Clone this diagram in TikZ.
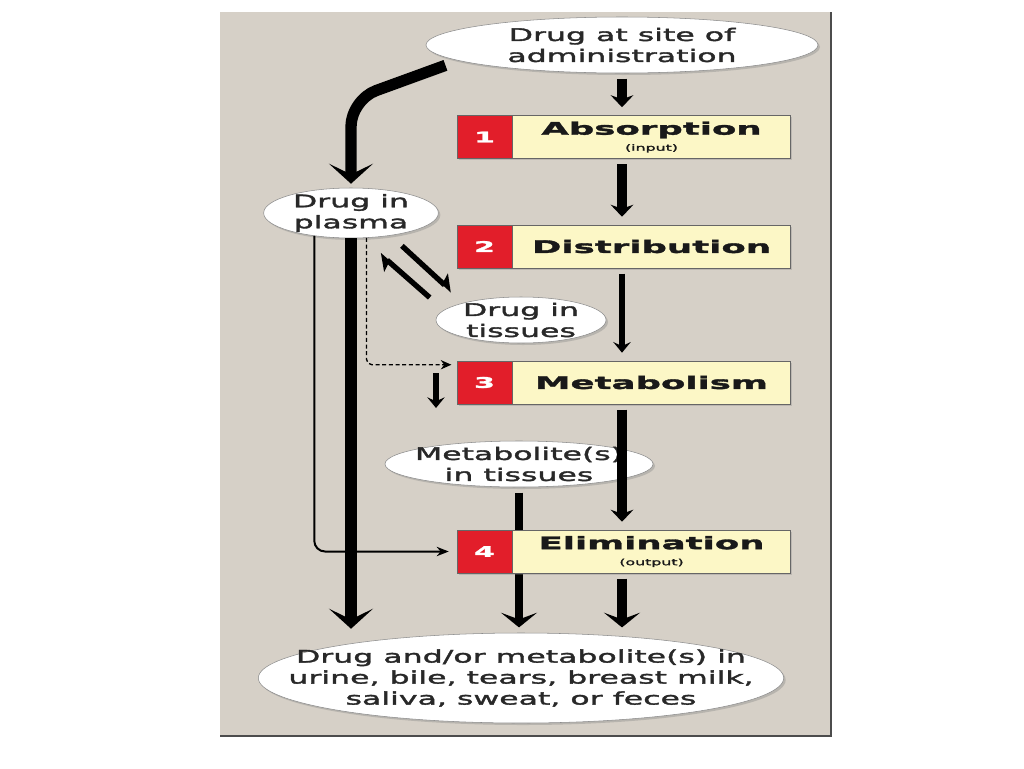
\documentclass[tikz,border=0pt]{standalone}
\usepackage{fontspec}
\newfontfamily\labelfont{DejaVu Sans}[FakeStretch=1.82, FakeBold=2]
\newfontfamily\stepfont{DejaVu Sans}[FakeStretch=2.05, FakeBold=1.8]
\usetikzlibrary{positioning}
\usetikzlibrary{arrows.meta}
\usetikzlibrary{shapes.geometric}
\usetikzlibrary{shadows}
\definecolor{panelgray}{RGB}{214, 208, 199}
\definecolor{stepred}{RGB}{226, 30, 42}
\definecolor{stepyellow}{RGB}{252, 247, 198}
\definecolor{inkgray}{RGB}{40, 40, 40}
\pgfdeclarelayer{bg}
\pgfdeclarelayer{under}
\pgfsetlayers{bg,under,main}

\begin{document}
\begin{tikzpicture}[
  x=0.75pt, y=-0.75pt,
  pool/.style={ellipse, fill=white, draw=black!45, line width=0.4pt, inner sep=0pt, align=center, text=inkgray,
    font=\labelfont\fontsize{13}{15.75}\selectfont, drop shadow={shadow xshift=1.5pt, shadow yshift=-1.5pt, opacity=0.35}},
  numbox/.style={rectangle, fill=stepred, draw=black!60, line width=0.4pt, minimum width=41.25pt, minimum height=32.25pt,
    inner sep=0pt, text=white, font=\stepfont\bfseries\fontsize{11}{11}\selectfont, drop shadow={shadow xshift=1.2pt, shadow yshift=-1.2pt, opacity=0.3}},
  stepbox/.style={rectangle, fill=stepyellow, draw=black!60, line width=0.4pt, minimum width=208.5pt, minimum height=32.25pt,
    inner sep=0pt, align=center, text=black!90, font=\stepfont\bfseries\fontsize{13}{13}\selectfont, drop shadow={shadow xshift=1.2pt, shadow yshift=-1.2pt, opacity=0.3}},
  flow/.style={line width=7.5pt, -{Stealth[length=9pt, width=17pt, inset=3pt]}, shorten <=4pt, shorten >=6pt},
  thinflow/.style={line width=4.5pt, -{Stealth[length=8pt, width=13pt, inset=3pt]}, shorten <=4pt, shorten >=6pt},
  drain/.style={line width=7.5pt, -{Stealth[length=11pt, width=27pt, inset=5pt]}, shorten <=4pt, shorten >=4pt},
  feed/.style={line width=8.5pt, -{Stealth[length=15pt, width=33pt, inset=8pt]}, shorten >=3pt},
  harp/.style={line width=4pt, -{Stealth[harpoon, length=10pt, width=16pt, inset=2pt]}},
  bypass/.style={line width=1.5pt, -{Stealth[length=9pt, width=7pt]}, shorten >=6pt},
  route/.style={line width=1pt, densely dashed, -{Stealth[length=8pt, width=7pt]}, shorten >=4pt}
]
\useasboundingbox (0,0) rectangle (1024,768);

% Panel
\begin{pgfonlayer}{bg}
\fill[panelgray] (220,12) rectangle (831,736);
\draw[black!70, line width=1.5pt] (831,12) -- (831,736) -- (220,736);
\end{pgfonlayer}

% Pools
\node[pool, minimum width=294pt, minimum height=42pt] (site) at (622,45) {Drug at site of\\administration};
\node[pool, minimum width=131pt, minimum height=37.5pt, inner ysep=-1.5pt] (plasma) at (351,213) {Drug in\\plasma};
\node[pool, minimum width=127.5pt, minimum height=34.5pt, inner ysep=-2.5pt] (tissues) at (521,320) {Drug in\\tissues};
\node[pool, minimum width=201pt, minimum height=34.5pt, inner xsep=-8pt, inner ysep=-2.5pt] (metab) at (519,464) {Metabolite(s)\\in tissues};
\node[pool, minimum width=394pt, minimum height=67.5pt, inner xsep=-37pt] (output) at (521,678)
  {Drug and/or metabolite(s) in\\urine, bile, tears, breast milk,\\saliva, sweat, or feces};

% Steps
\node[numbox] (n1) at (484.5,137) {1};
\node[stepbox, right=0pt of n1] (absorb) {Absorption\\[-1pt]{\labelfont\mdseries\fontsize{6.5}{7}\selectfont (input)}};
\node[numbox] (n2) at (484.5,246.5) {2};
\node[stepbox, right=0pt of n2] (distrib) {Distribution};
\node[numbox] (n3) at (484.5,382.5) {3};
\node[stepbox, right=0pt of n3] (metabo) {Metabolism};
\node[numbox] (n4) at (484.5,551.5) {4};
\node[stepbox, right=0pt of n4] (elim) {Elimination\\[-1pt]{\labelfont\mdseries\fontsize{6.5}{7}\selectfont (output)}};

\coordinate (m0) at (436,368);
\coordinate (m1) at (436,416);

% Main column
\draw[flow] (site.south) -- (absorb.north -| site);
\draw[flow] (absorb.south -| site) -- (distrib.north -| site);
\draw[thinflow] (distrib.south -| site) -- (metabo.north -| site);
\draw[flow] (metabo.south -| site) -- (elim.north -| site);
\draw[drain] (elim.south -| site) -- (output.north -| site);

% Plasma routes
\draw[bypass, rounded corners=8pt] (plasma.212) |- (n4.west);
\draw[route, rounded corners=4pt] (plasma.302) |- ([yshift=-3pt]n3.north west);
\draw[thinflow] (m0) -- (m1);
\draw[harp] ([shift={(-11,15)}]plasma.south east) -- ([shift={(-9,-12)}]tissues.north west);
\draw[harp] ([shift={(-31,-6)}]tissues.north west) -- ([shift={(-33,23)}]plasma.south east);
\draw[feed, rounded corners=20pt] ([yshift=-6pt]site.184) -- ([yshift=66pt]plasma.north) -- (plasma.north);
\draw[feed] (plasma.south) -- (plasma.south |- output.north);

\begin{pgfonlayer}{under}
\draw[drain, line width=6pt] (metab.south) -- (metab.south |- output.north);
\end{pgfonlayer}

\end{tikzpicture}
\end{document}
